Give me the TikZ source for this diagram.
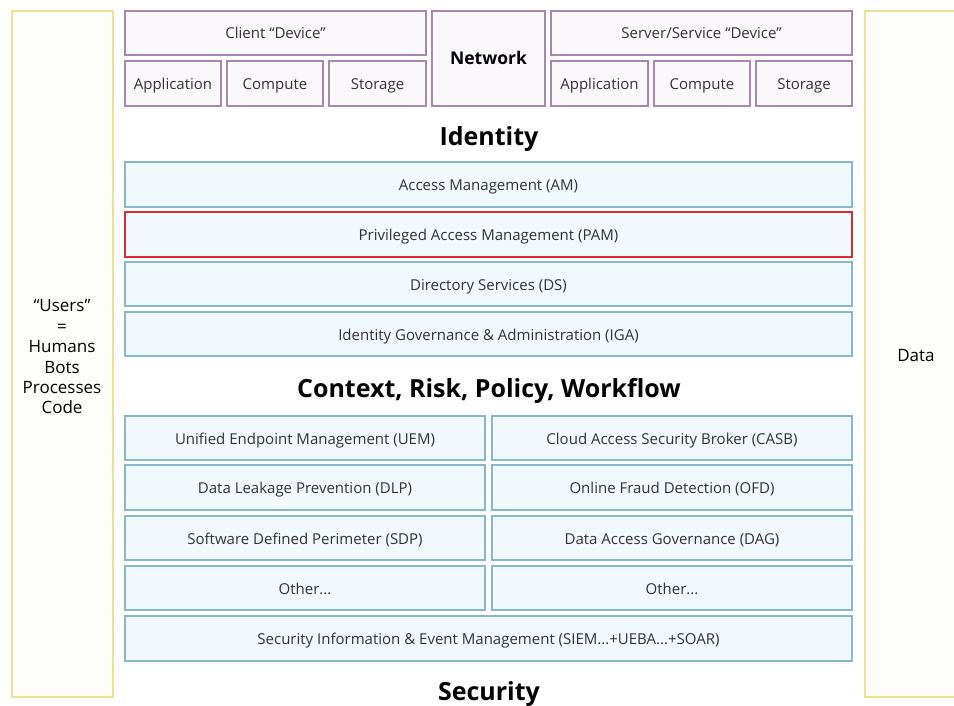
\documentclass[tikz,border=0pt]{standalone}
\usepackage{fontspec}
\setmainfont{Open Sans}
\definecolor{pborder}{RGB}{165,135,175}
\definecolor{pfill}{RGB}{251,248,251}
\definecolor{tborder}{RGB}{135,185,200}
\definecolor{tfill}{RGB}{242,249,252}
\definecolor{yborder}{RGB}{236,226,145}
\definecolor{yfill}{RGB}{253,253,250}
\definecolor{rborder}{RGB}{215,45,55}
\definecolor{txt}{RGB}{50,50,50}
\begin{document}
\begin{tikzpicture}[x=1pt,y=-1pt,
  base/.style={draw, line width=1.2pt, inner sep=0pt, text=txt, font=\fontsize{15}{17}\selectfont, align=center, text height=15pt, text depth=3pt},
  pbox/.style={base, draw=pborder, fill=pfill},
  tbox/.style={base, draw=tborder, fill=tfill},
  rbox/.style={base, draw=rborder, fill=tfill, line width=2pt},
  ybox/.style={draw=yborder, fill=yfill, line width=1.2pt, inner sep=0pt},
  title/.style={font=\fontsize{25}{29}\selectfont\bfseries, text=black},
  side/.style={font=\fontsize{17}{20.4}\selectfont, text=black, align=center}]
\useasboundingbox (0,0) rectangle (954,706);
\fill[white] (0,0) rectangle (954,706);
% side boxes
\node[ybox, minimum width=101pt, minimum height=686pt] (users) at (62.5,354) {};
\node[ybox, minimum width=110pt, minimum height=686pt] (databox) at (920,354) {};
\node[side] (userstxt) at (62,357) {“Users”\\=\\Humans\\Bots\\Processes\\Code};
\node[side] (datatxt) at (916,356) {Data};
% top
\node[pbox, minimum width=301pt, minimum height=44pt] (client) at (275.5,33) {Client “Device”};
\node[pbox, minimum width=96pt, minimum height=45pt] (app1) at (173,83.5) {Application};
\node[pbox, minimum width=96pt, minimum height=45pt] (comp1) at (275,83.5) {Compute};
\node[pbox, minimum width=97pt, minimum height=45pt] (stor1) at (377.5,83.5) {Storage};
\node[pbox, minimum width=113pt, minimum height=95pt, font=\fontsize{17.5}{20}\selectfont\bfseries, text=black] (net) at (488.5,58.5) {Network};
\node[pbox, minimum width=301pt, minimum height=44pt] (server) at (701.5,33) {Server/Service “Device”};
\node[pbox, minimum width=97pt, minimum height=45pt] (app2) at (599.5,83.5) {Application};
\node[pbox, minimum width=96pt, minimum height=45pt] (comp2) at (702,83.5) {Compute};
\node[pbox, minimum width=96pt, minimum height=45pt] (stor2) at (804,83.5) {Storage};
% identity
\node[title] (identity) at (489,139) {Identity};
\node[tbox, minimum width=727pt, minimum height=45pt] (am) at (488.5,184.5) {Access Management (AM)};
\node[rbox, minimum width=727pt, minimum height=45pt] (pam) at (488.5,234.5) {Privileged Access Management (PAM)};
\node[tbox, minimum width=727pt, minimum height=44pt] (ds) at (488.5,284) {Directory Services (DS)};
\node[tbox, minimum width=727pt, minimum height=44pt] (iga) at (488.5,334) {Identity Governance \& Administration (IGA)};
% context
\node[title] (context) at (489,391) {Context, Risk, Policy, Workflow};
\node[tbox, minimum width=360pt, minimum height=44pt] (uem) at (305,438) {Unified Endpoint Management (UEM)};
\node[tbox, minimum width=360pt, minimum height=44pt] (casb) at (672,438) {Cloud Access Security Broker (CASB)};
\node[tbox, minimum width=360pt, minimum height=45pt] (dlp) at (305,487.5) {Data Leakage Prevention (DLP)};
\node[tbox, minimum width=360pt, minimum height=45pt] (ofd) at (672,487.5) {Online Fraud Detection (OFD)};
\node[tbox, minimum width=360pt, minimum height=44pt] (sdp) at (305,538) {Software Defined Perimeter (SDP)};
\node[tbox, minimum width=360pt, minimum height=44pt] (dag) at (672,538) {Data Access Governance (DAG)};
\node[tbox, minimum width=360pt, minimum height=44pt] (oth1) at (305,588) {Other...};
\node[tbox, minimum width=360pt, minimum height=44pt] (oth2) at (672,588) {Other...};
\node[tbox, minimum width=727pt, minimum height=45pt] (siem) at (488.5,638.5) {Security Information \& Event Management (SIEM...+UEBA...+SOAR)};
\node[title] (security) at (489,694) {Security};
\end{tikzpicture}
\end{document}
